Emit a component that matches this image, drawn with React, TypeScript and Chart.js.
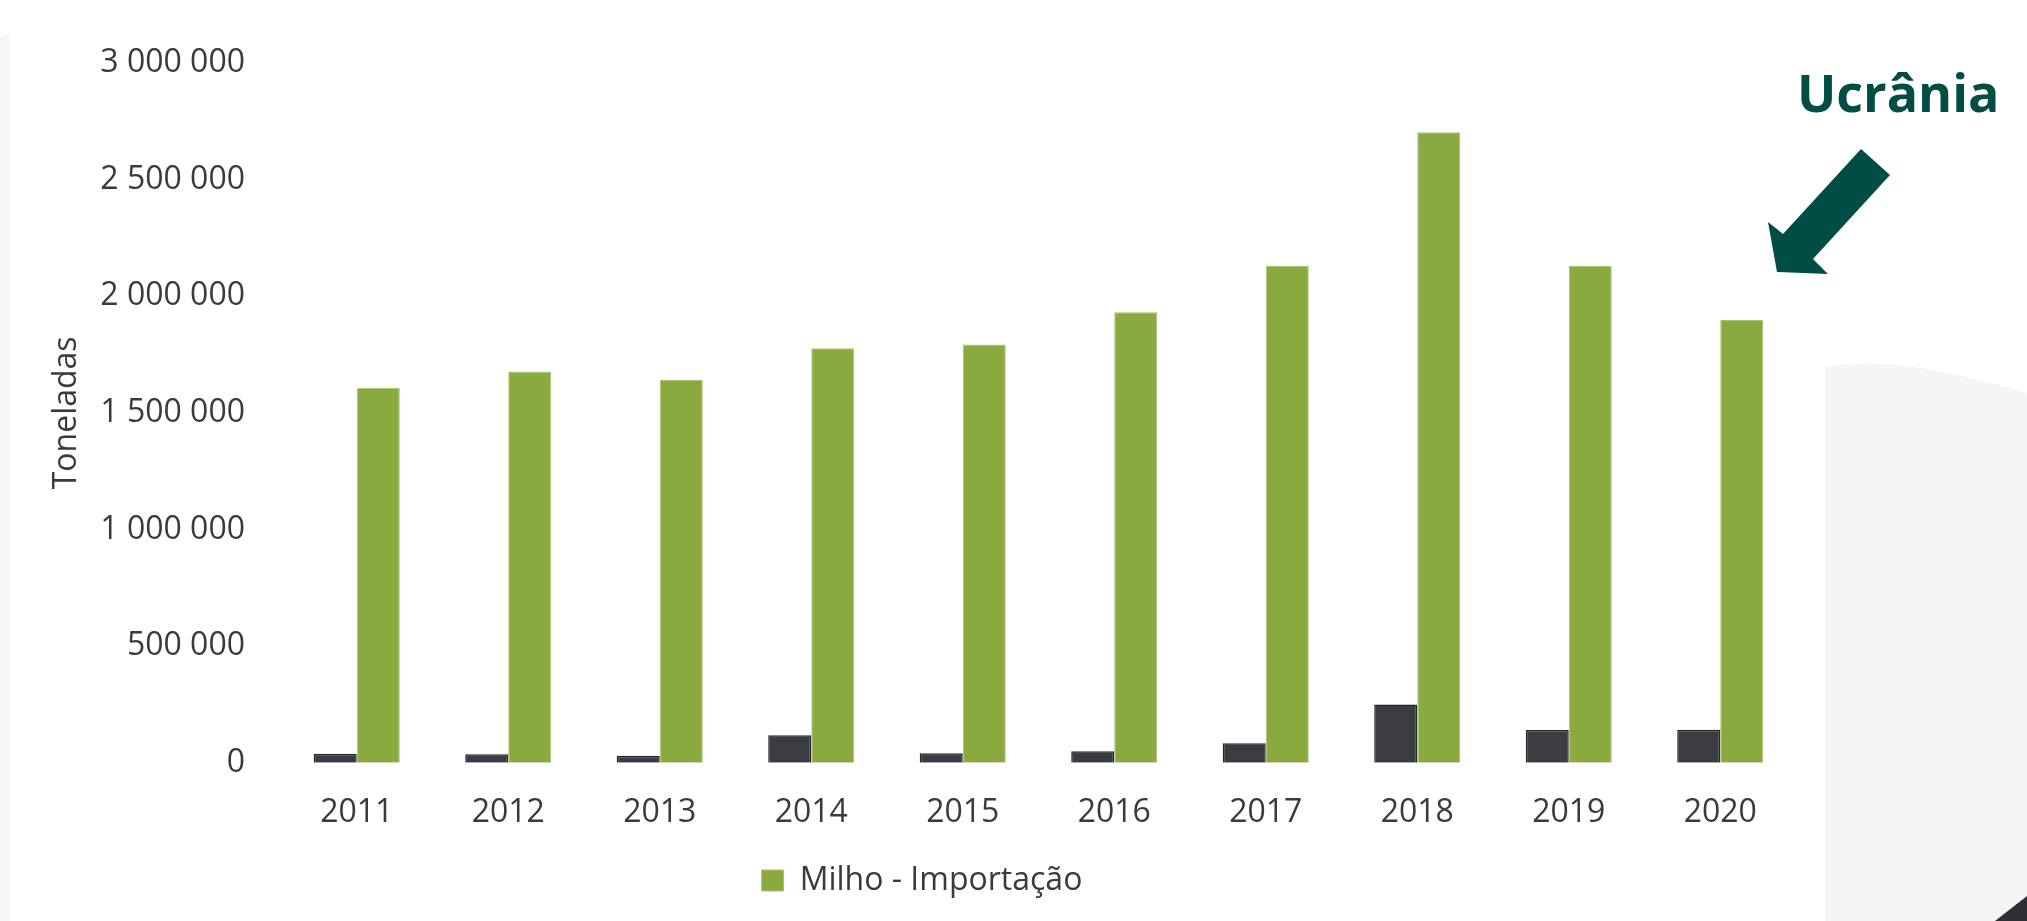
import React, { useEffect, useRef } from "react";
import { Chart, registerables } from "chart.js";

Chart.register(...registerables);

const years = ["2011", "2012", "2013", "2014", "2015", "2016", "2017", "2018", "2019", "2020"];
const ukraineValues = [38000, 36000, 30000, 118000, 41000, 49000, 83000, 250000, 140000, 141000];
const importValues = [1608000, 1677000, 1641000, 1777000, 1793000, 1931000, 2131000, 2703000, 2131000, 1898000];
const yTickMax = 3000000;
const yTickStep = 500000;
const seriesLabels = ["Ucrânia", "Milho - Importação"];
const axisTitle = "Toneladas";
const annotationText = "Ucrânia";

const FONT = "'Open Sans', sans-serif";
const TEXT = "#3a3a3e";

function fmt(v: number): string {
  return String(v).replace(/\B(?=(\d{3})+(?!\d))/g, " ");
}

export default function App() {
  const ref = useRef<HTMLCanvasElement | null>(null);

  useEffect(() => {
    if (!ref.current) return;
    const chart = new Chart(ref.current, {
      type: "bar",
      data: {
        labels: years,
        datasets: [
          {
            label: seriesLabels[0],
            data: ukraineValues,
            backgroundColor: "#3b3c41",
            borderColor: "#232428",
            borderWidth: 1.5,
            categoryPercentage: 0.568,
            barPercentage: 1.0,
          },
          {
            label: seriesLabels[1],
            data: importValues,
            backgroundColor: "#8aa93f",
            borderColor: "#a9c36f",
            borderWidth: 1,
            categoryPercentage: 0.568,
            barPercentage: 1.0,
          },
        ],
      },
      options: {
        responsive: false,
        animation: false,
        devicePixelRatio: 1,
        layout: { padding: { left: 48, right: 231, top: 63, bottom: 14.5 } },
        plugins: {
          tooltip: { enabled: false },
          legend: {
            position: "bottom",
            labels: {
              filter: (item: any) => item.datasetIndex === 1,
              boxWidth: 22,
              boxHeight: 21,
              padding: 10,
              color: TEXT,
              font: { family: FONT, size: 32 },
            },
          },
        },
        scales: {
          x: {
            grid: { display: false, drawTicks: false },
            border: { display: false },
            ticks: { color: TEXT, font: { family: FONT, size: 32 }, padding: 31 },
            afterFit: (s: any) => {
              s.height = 91.8;
            },
          },
          y: {
            min: 0,
            max: yTickMax,
            grid: { display: false, drawTicks: false },
            border: { display: false },
            ticks: {
              stepSize: yTickStep,
              color: TEXT,
              font: { family: FONT, size: 32 },
              padding: 36,
              callback: (v: any) => fmt(Number(v)),
            },
            title: {
              display: true,
              text: axisTitle,
              color: TEXT,
              font: { family: FONT, size: 32 },
              padding: 0,
            },
            afterFit: (s: any) => {
              s.width = 233;
            },
          },
        },
      },
    });
    return () => chart.destroy();
  }, []);

  return (
    <div style={{ position: "absolute", left: 0, top: 0, width: 2027, height: 921, overflow: "hidden", background: "#ffffff" }}>
      <svg width={2027} height={921} style={{ position: "absolute", left: 0, top: 0 }}>
        <path d="M0 40 Q0 35 5 35 L10 35 L10 921 L0 921 Z" fill="#f5f7f6" />
        <path d="M1825 367 Q1873 360 1920 368 Q1975 377 2027 393 L2027 921 L1825 921 Z" fill="#f4f6f5" />
        <polygon points="1995,921 2027,896 2027,921" fill="#2e3035" />
        <polygon
          points="1861,149 1890,175 1813,259 1828,274 1777,272 1768,222 1783,234"
          fill="#004d45"
        />
      </svg>
      <canvas ref={ref} width={2027} height={921} style={{ position: "absolute", left: 0, top: 0 }} />
      <div
        style={{
          position: "absolute",
          left: 1797,
          top: 57,
          fontFamily: FONT,
          fontWeight: 700,
          fontSize: 52,
          lineHeight: "70px",
          color: "#004d45",
          whiteSpace: "nowrap",
        }}
      >
        {annotationText}
      </div>
    </div>
  );
}
